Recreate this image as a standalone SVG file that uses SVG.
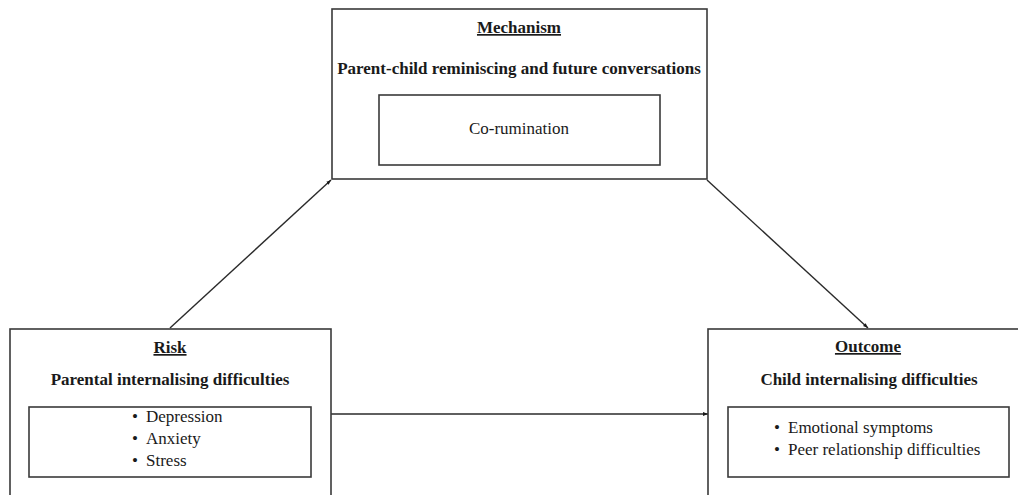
<svg xmlns="http://www.w3.org/2000/svg" width="1018" height="495" viewBox="0 0 1018 495">
<style>
.box{fill:none;stroke:#3a3a3a;stroke-width:1.6}
.t{font-family:"Liberation Serif","Times New Roman",serif;fill:#1a1a1a;text-anchor:middle}
.h{font-size:17px;font-weight:bold;text-decoration:underline}
.s{font-size:17px;font-weight:bold}
.r{font-size:17px}
.l{font-family:"Liberation Serif","Times New Roman",serif;fill:#1a1a1a;font-size:17px}
.c{stroke:#2a2a2a;stroke-width:1.4;fill:none;marker-end:url(#ah)}
</style>
<defs>
<marker id="ah" viewBox="0 0 10 10" refX="10" refY="5" markerWidth="5" markerHeight="5" orient="auto" markerUnits="userSpaceOnUse">
<path d="M0,1 L10,5 L0,9 Z" fill="#1a1a1a"/>
</marker>
</defs>
<rect width="1018" height="495" fill="#fff"/>
<g id="connectors">
<line class="c" x1="170" y1="328" x2="331" y2="180"/>
<line class="c" x1="707" y1="180" x2="868" y2="328"/>
<line class="c" x1="331" y1="414" x2="708" y2="414"/>
</g>
<g id="mechanism">
<rect class="box" x="332" y="9" width="375" height="170"/>
<text class="t h" x="519" y="33">Mechanism</text>
<text class="t s" x="519" y="74">Parent-child reminiscing and future conversations</text>
<rect class="box" x="379" y="95" width="281" height="70"/>
<text class="t r" x="519" y="134">Co-rumination</text>
</g>
<g id="risk">
<rect class="box" x="10" y="329" width="321" height="180"/>
<text class="t h" x="170" y="353">Risk</text>
<text class="t s" x="170" y="385">Parental internalising difficulties</text>
<rect class="box" x="29" y="407" width="282" height="70"/>
<text class="l" x="132" y="422">•</text><text class="l" x="146" y="422">Depression</text>
<text class="l" x="132" y="444">•</text><text class="l" x="146" y="444">Anxiety</text>
<text class="l" x="132" y="466">•</text><text class="l" x="146" y="466">Stress</text>
</g>
<g id="outcome">
<rect class="box" x="708" y="329" width="330" height="180"/>
<text class="t h" x="868" y="352">Outcome</text>
<text class="t s" x="869" y="385">Child internalising difficulties</text>
<rect class="box" x="728" y="407" width="281" height="70"/>
<text class="l" x="774" y="433">•</text><text class="l" x="788" y="433">Emotional symptoms</text>
<text class="l" x="774" y="455">•</text><text class="l" x="788" y="455">Peer relationship difficulties</text>
</g>
</svg>
